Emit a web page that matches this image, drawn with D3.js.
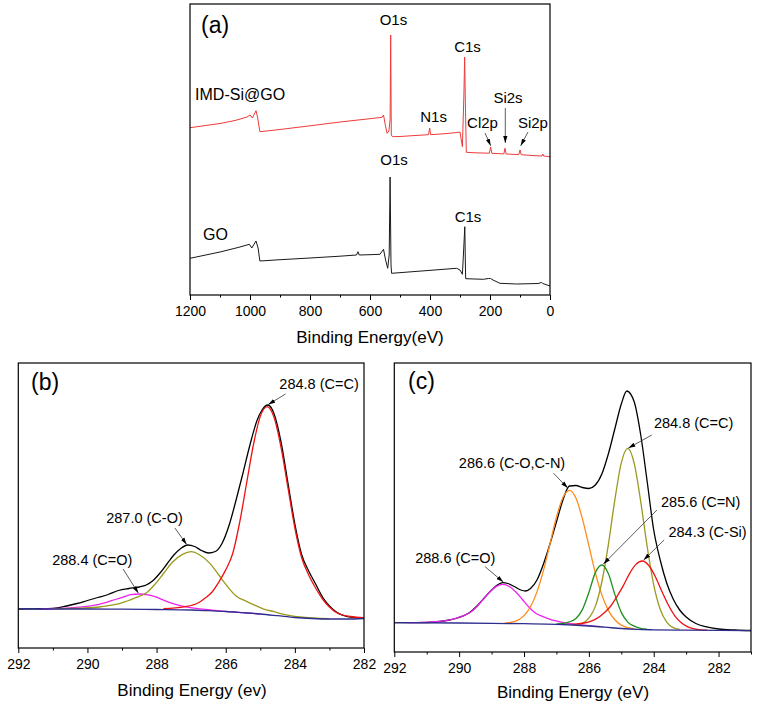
<!DOCTYPE html>
<html><head><meta charset="utf-8">
<script src="https://cdn.jsdelivr.net/npm/d3@7"></script>
<style>
body{margin:0;background:#fff}
svg{display:block}
text{font-family:"Liberation Sans",Arial,Helvetica,sans-serif;fill:#000}
</style>
</head><body>
<svg id="chart" width="757" height="707"></svg>
<script>
// ---------------- DATA ----------------
// (a) survey spectra: [binding energy eV, intensity a.u.]
const surveyIMD = [[1200,167.3],[1100,171.5],[1050,174.5],[1010,178],[1000,180],[992,177],[980,184.3],[975,178],[967,163.3],[900,165.5],[800,169.2],[700,173],[600,176.3],[560,177.7],[555,180],[549,170],[543,161.7],[537,164],[533,175],[531,260],[529,160],[525,158.3],[500,158.5],[450,159.5],[405,160.3],[401,167],[398,160.3],[350,161.3],[310,162.5],[300,163],[292,148.3],[287,200],[284.5,238],[282,190],[279,142.7],[250,142.2],[202,141.8],[198,148],[194,141.7],[154,141.1],[150,146.7],[146,141],[104,140.4],[100,145],[96,140.3],[60,139.5],[27,139],[24,141],[21,139],[0,138.3]];
const surveyGO = [[1200,36.7],[1100,43],[1040,47.5],[1002,50.7],[994,47],[980,54],[973,47],[967,34],[900,35.3],[800,37],[700,38.8],[645,40],[640,43.3],[636,40],[600,40.3],[567,40.7],[555,45.7],[548,35],[541,26.7],[536,40],[533,118],[530,30],[528,21.7],[450,23.5],[350,25.8],[311,26.7],[300,25],[292,20.7],[287,50],[284,68.3],[282,30],[281,16.3],[222,15.7],[205,16.5],[198,16.5],[190,15],[167,11.7],[111,11],[40,11.5],[28,12.5],[24,11.5],[0,9]];
const surveyTicks = [0,200,400,600,800,1000,1200];

// (b) C1s of GO
const goC1sRaw = [[292,39],[291.5,39.2],[291,39.5],[290.6,42],[290.3,44.5],[290,47.5],[289.7,50.5],[289.4,53.5],[289.1,57.5],[288.8,59.5],[288.5,61],[288.3,63],[288.1,67.5],[287.9,75],[287.7,84],[287.5,93],[287.3,99.5],[287.1,103],[286.9,101.5],[286.7,97.5],[286.5,95],[286.3,96.5],[286.1,105],[285.9,123],[285.7,148],[285.5,175],[285.3,203],[285.1,227],[284.95,238],[284.78,243],[284.6,234],[284.4,206],[284.2,165],[284,124],[283.8,93],[283.6,77],[283.4,64],[283.2,51],[283,42],[282.8,36],[282.6,32.5],[282.3,30.5],[282,30]];
const goCC = [[287.8,39.3],[287.2,41.2],[286.8,45],[286.6,49.9],[286.4,55.8],[286.2,65.9],[286,78.1],[285.8,94.2],[285.6,125],[285.4,164],[285.2,203],[285,231.6],[284.8,241.4],[284.6,230.4],[284.4,200.6],[284.2,160.4],[284,120],[283.8,90],[283.6,73],[283.4,60],[283.2,49],[283,41],[282.8,35.5],[282.4,31.5],[282,30.3]];
const goCO = [[291,39.3],[290.2,39.9],[289.65,41],[289.4,42.4],[289.1,44.1],[288.85,47],[288.6,50.4],[288.3,54.9],[288.05,63.6],[287.8,74.5],[287.55,85.5],[287.25,93.6],[287,96.3],[286.75,93],[286.45,84.4],[286.2,73],[285.95,61.5],[285.7,52],[285.4,46.7],[285.15,42.6],[284.9,38.9],[284.6,36.3],[284.35,33.8],[283.85,31],[283,29.3]];
const goCdO = [[291.35,39.2],[290.85,39.5],[290.6,39.9],[290.4,40.4],[290.15,41.1],[289.9,42.1],[289.7,43.3],[289.45,45.6],[289.2,48.5],[288.95,51.2],[288.75,53.3],[288.5,54],[288.25,53.1],[288,50.9],[287.8,47.8],[287.55,44.6],[287.3,42.2],[287.1,40.9],[286.85,39.6],[286.6,38.6],[286.4,37.9],[286.15,37.1],[285.65,35.6],[285,34]];
const goBackground = [[292,39],[290,39],[289,38.8],[288,38.5],[287,38],[286.5,37.3],[286,36.5],[285.5,35.3],[285,34],[284.5,32.3],[284,30.5],[283.5,29.5],[283,29],[282.5,29],[282,29.5]];

// (c) C1s of IMD-Si@GO
const imdC1sRaw = [[292,29.3],[291.5,29.3],[291,29.5],[290.6,30.5],[290.3,32],[290,34.5],[289.7,39],[289.45,46],[289.2,55],[289,62],[288.8,67.5],[288.65,69.3],[288.5,68.5],[288.3,65.5],[288.1,62],[287.95,61],[287.8,63.5],[287.6,72],[287.4,88],[287.2,108],[287,130],[286.8,152],[286.6,166],[286.4,166.5],[286.2,164.5],[286,163.5],[285.8,167],[285.6,178],[285.4,198],[285.2,223],[285,248],[284.83,261],[284.6,250],[284.4,217],[284.2,170],[284,122],[283.8,92],[283.6,69],[283.4,53],[283.2,42],[283,35],[282.7,28.5],[282.4,25.3],[282,23],[281.5,22],[281,21.5]];
const imdCdO = [[291.65,29.4],[291.05,29.7],[290.65,30.5],[290.45,31.2],[290.25,32.4],[290.05,34.4],[289.85,36.6],[289.65,39.7],[289.45,45.5],[289.25,52.9],[289.05,60.2],[288.85,65.6],[288.65,67.6],[288.45,65.5],[288.25,60],[288.05,52.5],[287.85,45],[287.65,39],[287.45,35.8],[287.25,33.4],[287.05,31.3],[286.85,29.9],[286.65,28.7],[286.25,27.1],[285.65,25.4]];
const imdCOCN = [[288.6,28.9],[288.4,29.7],[288.2,31.7],[288,36.4],[287.8,45.2],[287.6,60.1],[287.4,81.6],[287.2,108.1],[287,134.8],[286.8,154.5],[286.6,161.7],[286.4,153.9],[286.2,133.4],[286,106.3],[285.8,79.2],[285.6,57.1],[285.4,41.6],[285.2,32.2],[285,26.9],[284.8,24.4],[284.6,23.2]];
const imdCdN = [[287,28.2],[286.8,28.5],[286.6,30.1],[286.4,33.5],[286.2,42.4],[286,59.5],[285.8,79.4],[285.6,87],[285.4,78.4],[285.2,57.6],[285,39.6],[284.8,29.9],[284.6,25.9],[284.4,23.7],[284.2,22.8]];
const imdCC = [[286.4,27.4],[286.2,28.8],[286,33.9],[285.8,45.6],[285.6,70],[285.4,107.2],[285.2,151.8],[285,189.1],[284.8,203.7],[284.6,188.4],[284.4,150.2],[284.2,105],[284,67.2],[283.8,42.7],[283.6,29.9],[283.4,24.4],[283.2,22.6]];
const imdCSi = [[286.55,27.8],[286.35,28.2],[286.15,29],[285.95,30.7],[285.75,33.6],[285.55,38.6],[285.35,45],[285.15,54.7],[284.95,65.6],[284.75,78.2],[284.55,87.6],[284.35,91],[284.15,86.5],[283.95,75.3],[283.75,60.8],[283.55,47],[283.35,36.2],[283.15,29.2],[282.95,25.2],[282.75,23.2],[282.55,22.2],[282.35,21.8]];
const imdBackground = [[292,29.3],[290,29],[289,28.7],[288,28.3],[287,27.7],[286.5,27],[286,26],[285.5,24.8],[285,23.5],[284.5,22.6],[284,22.2],[283,21.8],[281,21.3]];
const c1sTicks = [282,284,286,288,290,292];

// ---------------- LAYOUT / STYLE ----------------
const svg = d3.select("#chart");
const FONT = '"Liberation Sans",Arial,Helvetica,sans-serif';
svg.append("defs").append("marker")
  .attr("id","arr").attr("viewBox","0 0 10 6").attr("refX",10).attr("refY",3)
  .attr("markerWidth",7).attr("markerHeight",5).attr("markerUnits","userSpaceOnUse")
  .attr("orient","auto")
  .append("path").attr("d","M0,0 L10,3 L0,6 Z").attr("fill","#000");

const panels = [
  { frame:{l:190,t:4,r:550,b:295}, xDom:[1200,0], yDom:[0,291],
    major:surveyTicks, minor:d3.range(100,1200,200),
    title:"Binding Energy(eV)", titleX:370, titleY:343,
    letter:"(a)", letterX:201, letterY:33, curve:d3.curveLinear,
    series:[{d:surveyIMD,c:"#ee3b3b",w:1},{d:surveyGO,c:"#1a1a1a",w:1}],
    labels:[
      {t:"O1s",x:522,y:270,s:15},{t:"C1s",x:275,y:243,s:15},
      {t:"IMD-Si@GO",x:1183,y:195,s:16,a:"start"},
      {t:"N1s",x:388,y:173.3,s:15},{t:"Cl2p",x:225,y:167,s:15},
      {t:"Si2s",x:140,y:192,s:15},{t:"Si2p",x:57,y:167,s:15},
      {t:"O1s",x:520,y:130,s:15},{t:"C1s",x:273.3,y:73.3,s:15},
      {t:"GO",x:1156.7,y:55,s:16,a:"start"}],
    arrows:[[216.7,162,197.7,149.3],[149,187,149,152],[73.3,163,97.7,149.3]] },
  { frame:{l:18.3,t:363,r:364,b:648}, xDom:[292,282], yDom:[0,285],
    major:c1sTicks, minor:[283,285,287,289,291],
    title:"Binding Energy (ev)", titleX:192, titleY:696,
    letter:"(b)", letterX:31, letterY:390, curve:d3.curveMonotoneX,
    series:[{d:goC1sRaw,c:"#000",w:1.3},{d:goCdO,c:"#ee22ee",w:1.3},{d:goCO,c:"#9a9a1e",w:1.3},
            {d:goCC,c:"#ee1111",w:1.3},{d:goBackground,c:"#2e2e8f",w:1.3}],
    labels:[{t:"284.8 (C=C)",x:283.3,y:259,s:14.5},{t:"287.0 (C-O)",x:288.35,y:125.3,s:14.5},
            {t:"288.4 (C=O)",x:289.86,y:83,s:14.5}],
    arrows:[[284.27,254,284.77,243.5],[287.47,120,287.13,103.5],[288.97,79,288.53,55]] },
  { frame:{l:394.3,t:363,r:751,b:652}, xDom:[292,281], yDom:[0,289],
    major:c1sTicks, minor:[281,283,285,287,289,291],
    title:"Binding Energy (eV)", titleX:573, titleY:698,
    letter:"(c)", letterX:408, letterY:389, curve:d3.curveMonotoneX,
    series:[{d:imdC1sRaw,c:"#000",w:1.3},{d:imdCdO,c:"#ee22ee",w:1.3},{d:imdCOCN,c:"#ff8c1a",w:1.3},
            {d:imdCC,c:"#9a9a1e",w:1.3},{d:imdCdN,c:"#1f8f1f",w:1.3},{d:imdCSi,c:"#ee1111",w:1.3},
            {d:imdBackground,c:"#2e2e8f",w:1.3}],
    labels:[{t:"284.8 (C=C)",x:282.77,y:223.7,s:14.5},{t:"286.6 (C-O,C-N)",x:288.37,y:183.7,s:14.5},
            {t:"285.6 (C=N)",x:282.55,y:145.3,s:14.5},{t:"284.3 (C-Si)",x:282.34,y:115.3,s:14.5},
            {t:"288.6 (C=O)",x:290.12,y:89.3,s:14.5}],
    arrows:[[284.06,217,284.78,204],[287.09,178.7,286.65,164],[283.9,142,285.55,88],
            [283.68,112,284.31,92],[289.2,85.3,288.64,70]] }
];

panels.forEach(p => {
  const f = p.frame;
  const x = d3.scaleLinear().domain(p.xDom).range([f.l, f.r]);
  const y = d3.scaleLinear().domain(p.yDom).range([f.b, f.t]);
  const g = svg.append("g");
  const clipId = "clip" + p.letter.replace(/\W/g,"");
  svg.select("defs").append("clipPath").attr("id",clipId)
    .append("rect").attr("x",f.l).attr("y",f.t).attr("width",f.r-f.l).attr("height",f.b-f.t);

  const line = d3.line().x(d=>x(d[0])).y(d=>y(d[1])).curve(p.curve);
  const sg = g.append("g").attr("clip-path",`url(#${clipId})`);
  p.series.forEach(s => {
    sg.append("path").attr("d", line(s.d)).attr("fill","none")
      .attr("stroke", s.c).attr("stroke-width", s.w).attr("stroke-linejoin","round");
  });

  // axes
  const axMaj = d3.axisBottom(x).tickValues(p.major).tickSize(5).tickPadding(6).tickFormat(d3.format("d"));
  const axMin = d3.axisBottom(x).tickValues(p.minor).tickSize(2.5).tickFormat("");
  const gMin = g.append("g").attr("transform",`translate(0,${f.b})`).call(axMin);
  const gMaj = g.append("g").attr("transform",`translate(0,${f.b})`).call(axMaj);
  [gMin,gMaj].forEach(a => { a.select(".domain").remove(); a.selectAll("line").attr("stroke","#000").attr("stroke-width",1); });
  gMaj.selectAll("text").attr("font-size",14).attr("font-family",FONT).attr("fill","#000");

  // frame
  g.append("rect").attr("x",f.l).attr("y",f.t).attr("width",f.r-f.l).attr("height",f.b-f.t)
    .attr("fill","none").attr("stroke","#000").attr("stroke-width",1.2);

  g.append("text").attr("x",p.titleX).attr("y",p.titleY).attr("text-anchor","middle")
    .attr("font-size",17).text(p.title);
  g.append("text").attr("x",p.letterX).attr("y",p.letterY).attr("font-size",23).text(p.letter);

  p.labels.forEach(l => {
    g.append("text").attr("x",x(l.x)).attr("y",y(l.y)).attr("text-anchor",l.a||"middle")
      .attr("font-size",l.s).text(l.t);
  });
  p.arrows.forEach(a => {
    g.append("line").attr("x1",x(a[0])).attr("y1",y(a[1])).attr("x2",x(a[2])).attr("y2",y(a[3]))
      .attr("stroke","#333").attr("stroke-width",0.8).attr("marker-end","url(#arr)");
  });
});
</script>
</body></html>
